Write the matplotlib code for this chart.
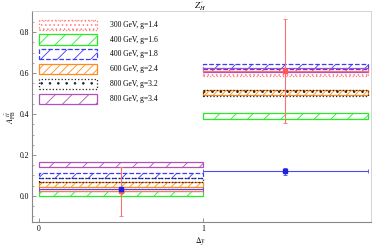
import numpy as np
import matplotlib
matplotlib.use("Agg")
import matplotlib.pyplot as plt
from matplotlib.patches import Rectangle

plt.rcParams['font.family'] = ['Liberation Serif', 'DejaVu Serif']
plt.rcParams['mathtext.fontset'] = 'stix'
plt.rcParams['hatch.linewidth'] = 0.6

# bins in delta y
bin_edges = [0, 1, 2]

# model bands: (low, high) per bin
models = ['300 GeV, g=1.4', '400 GeV, g=1.6', '400 GeV, g=1.8',
          '600 GeV, g=2.4', '800 GeV, g=3.2', '800 GeV, g=3.4']
band_lo_bin1 = [0.026, 0.002, 0.087, 0.042, 0.070, 0.143]
band_hi_bin1 = [0.042, 0.023, 0.114, 0.070, 0.086, 0.164]
band_lo_bin2 = [0.588, 0.378, 0.620, 0.494, 0.490, 0.605]
band_hi_bin2 = [0.612, 0.405, 0.643, 0.520, 0.518, 0.624]

colors = ['#ff7a7a', '#22ee22', '#3a3aff', '#ff8a1a', '#222222', '#b050b8']
hatches = ['....', '//', '//', '////', '..', '//']
styles = ['dotted', 'solid', 'dashed', 'solid', 'dotted', 'solid']

# measurements
x_meas = [0.5, 1.5]
red_val = [0.026, 0.612]
red_lo = [0.122, 0.257]
red_hi = [0.114, 0.253]
blue_val = [0.033, 0.120]
blue_err = [0.008, 0.018]

fig = plt.figure(figsize=(3.74, 2.48), dpi=100)
ax = fig.add_axes([0.0856, 0.105, 0.906, 0.851])

for i in range(len(models)):
    for b, (lo, hi) in enumerate([(band_lo_bin1[i], band_hi_bin1[i]),
                                  (band_lo_bin2[i], band_hi_bin2[i])]):
        ax.add_patch(Rectangle((bin_edges[b], lo), bin_edges[b + 1] - bin_edges[b], hi - lo,
                               facecolor='none', edgecolor=colors[i], hatch=hatches[i],
                               linestyle=styles[i], linewidth=0.9, zorder=2))

# legend drawn by hand, in axes fraction
for i, lab in enumerate(models):
    yc = 0.935 - i * 0.0706
    ax.add_patch(Rectangle((0.021, yc - 0.024), 0.171, 0.048, transform=ax.transAxes,
                           facecolor='none', edgecolor=colors[i], hatch=hatches[i],
                           linestyle=styles[i], linewidth=0.9, zorder=2))
    ax.text(0.23, yc, lab, transform=ax.transAxes, fontsize=5.5, va='center', ha='left')

ax.errorbar(x_meas, red_val, yerr=[red_lo, red_hi], xerr=0.5, fmt='s', color='#ff5555',
            ecolor='#ff7070', markersize=2.2, elinewidth=0.8, capsize=1.5, capthick=0.6, zorder=4)
ax.errorbar(x_meas, blue_val, yerr=blue_err, xerr=0.5, fmt='s', color='#2020dd',
            ecolor='#4a4aee', markersize=2.2, elinewidth=0.8, capsize=1.5, capthick=0.6, zorder=5)

ax.set_xlim(-0.043, 2.02)
ax.set_ylim(-0.127, 0.904)
ax.set_xticks([0, 1])
ax.set_yticks([0.0, 0.2, 0.4, 0.6, 0.8])
ax.set_yticklabels(['0.0', '0.2', '0.4', '0.6', '0.8'])
ax.set_yticks(np.arange(-0.1, 0.9, 0.05), minor=True)
ax.tick_params(direction='in', labelsize=5.5, length=3, width=0.5, color='#666666', pad=2)
ax.tick_params(which='minor', direction='in', length=1.5, width=0.4, color='#666666')
for side in ['left', 'bottom']:
    ax.spines[side].set_color('#888888')
    ax.spines[side].set_linewidth(0.8)
for side in ['top', 'right']:
    ax.spines[side].set_color('#cccccc')
    ax.spines[side].set_linewidth(0.6)

fig.text(0.536, 0.975, r"$Z_{H}^{\,\prime}$", fontsize=6.5, ha='center', va='center')
fig.text(0.536, 0.028, r"$\Delta y$", fontsize=5.5, ha='center', va='center')
ax.set_ylabel(r"$A_{\rm FB}^{\;t\bar{t}}$", fontsize=6, labelpad=1)

fig.savefig("out.png", dpi=100)
